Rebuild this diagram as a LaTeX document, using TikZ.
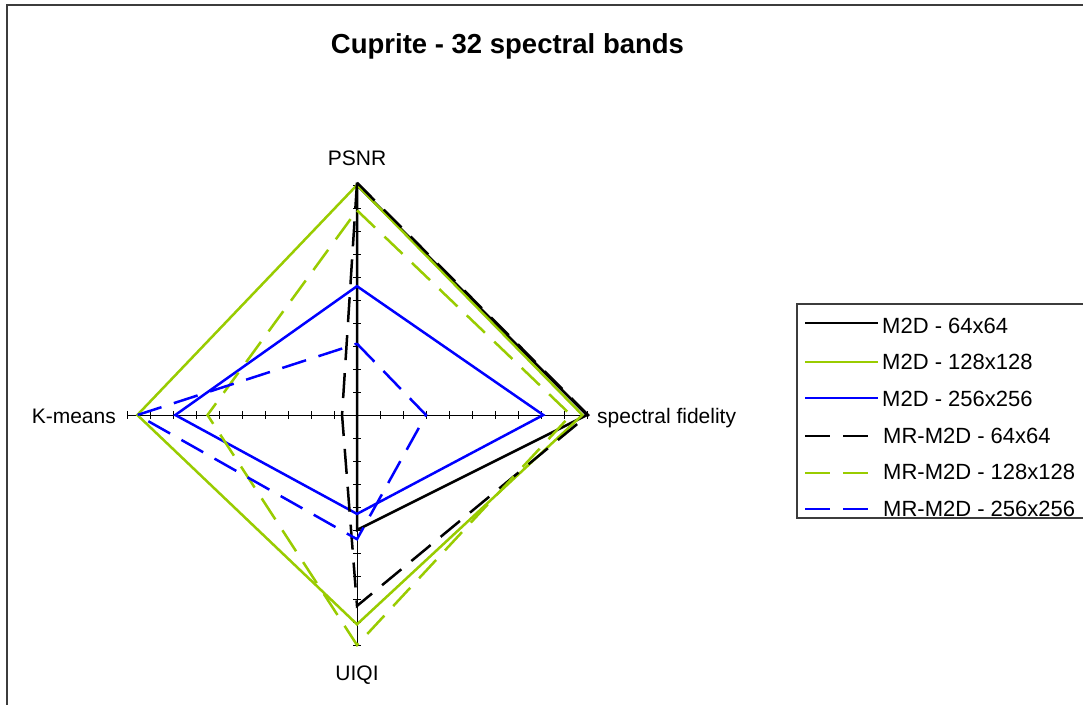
\documentclass[tikz,border=0pt]{standalone}
\usepackage{fontspec}
\setmainfont{Liberation Sans}
\definecolor{cgreen}{RGB}{153,204,0}
\definecolor{cblue}{RGB}{0,0,255}
\definecolor{cframe}{RGB}{60,60,60}
\newcommand\radarpoly[5]{%
  \draw[#1] (357,{415-230*#2}) -- ({357+230*#3},415) -- (357,{415+230*#4}) -- ({357-230*#5},415) -- cycle;}
\begin{document}
\begin{tikzpicture}[x=1pt,y=-1pt,
  ser/.style={line width=2.5pt, line join=miter, miter limit=20},
  dsh/.style={ser, dash pattern=on 25pt off 13pt},
  lab/.style={font=\fontsize{21}{25}\selectfont, inner sep=0pt},
  leg/.style={font=\fontsize{22}{25}\selectfont, inner sep=0pt, anchor=base west},
  axisline/.style={black, line width=1pt},
  framed/.style={cframe, line width=1.5pt}]
\useasboundingbox (0,0) rectangle (1083,704);
\clip (0,0) rectangle (1083,704);
\fill[white] (0,0) rectangle (1083,704);
\draw[framed] (7,720) -- (7,5) -- (1100,5);
% title
\node[anchor=base, font=\bfseries\fontsize{27.5}{32}\selectfont, inner sep=0pt] (title) at (507.5,53) {Cuprite - 32 spectral bands};
% axes
\coordinate (O) at (357,415);
\draw[axisline] (127,415) -- (587,415);
\draw[axisline] (357,185) -- (357,645);
\foreach \i in {-10,...,-1,1,2,...,10} {
  \draw[axisline] ({357+23*\i},411) -- ({357+23*\i},419);
  \draw[axisline] (353,{415+23*\i}) -- (361,{415+23*\i});
}
% axis labels
\node[lab, anchor=base] (psnr) at (357,165) {PSNR};
\node[lab, anchor=base west] (sf) at (597,423) {spectral fidelity};
\node[lab, anchor=base] (uiqi) at (357,680) {UIQI};
\node[lab, anchor=base east] (km) at (116,423) {K-means};
% series: P, S, U, K
\radarpoly{ser, black}{1.0}{1.0}{0.50}{0.0}
\radarpoly{ser, cgreen}{1.0}{0.98}{0.91}{0.955}
\radarpoly{ser, cblue}{0.56}{0.81}{0.43}{0.79}
\radarpoly{dsh, black}{1.01}{1.005}{0.83}{0.065}
\radarpoly{dsh, cgreen}{0.89}{0.93}{1.0}{0.65}
\radarpoly{dsh, cblue}{0.31}{0.30}{0.54}{0.955}
% legend
\draw[framed] (797,304) rectangle (1100,518);
\draw[ser, black]  (805,323) -- (878,323);
\draw[ser, cgreen] (805,362) -- (878,362);
\draw[ser, cblue]  (805,398) -- (878,398);
\draw[dsh, black]  (805,436) -- (868,436);
\draw[dsh, cgreen] (805,473) -- (868,473);
\draw[dsh, cblue]  (805,509) -- (868,509);
\node[leg] (l1) at (882,333) {M2D - 64x64};
\node[leg] (l2) at (882,369) {M2D - 128x128};
\node[leg] (l3) at (882,406) {M2D - 256x256};
\node[leg] (l4) at (883,443) {MR-M2D - 64x64};
\node[leg] (l5) at (883,479) {MR-M2D - 128x128};
\node[leg] (l6) at (883,516) {MR-M2D - 256x256};
\end{tikzpicture}
\end{document}
